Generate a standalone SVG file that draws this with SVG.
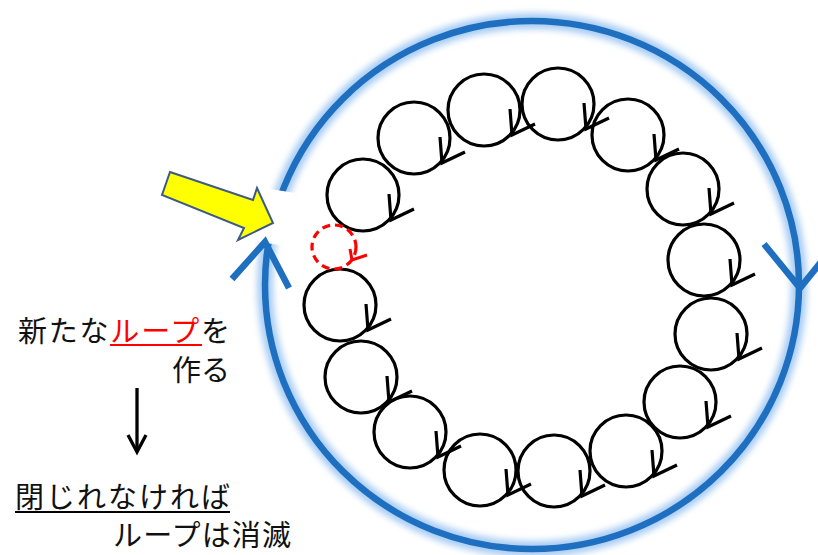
<svg xmlns="http://www.w3.org/2000/svg" xmlns:xlink="http://www.w3.org/1999/xlink" width="818" height="555" viewBox="0 0 818 555">
<style>
.loop{fill:none;stroke:#000;stroke-width:3.2}
.txt{font-family:"Noto Sans CJK JP","Noto Sans",sans-serif;font-size:29px;fill:#111}
.blue{fill:none;stroke:#1f6fc1;stroke-width:6.5}
</style>
<defs>
<filter id="glow" x="-10%" y="-10%" width="120%" height="120%"><feGaussianBlur stdDeviation="3"/></filter>
<g id="loopShape">
<circle cx="0" cy="0" r="36" class="loop"/>
<polyline points="26,-1 28,25 51,14" class="loop"/>
</g>
</defs>
<rect width="818" height="555" fill="#fff"/>

<g id="big-loop">
<ellipse cx="532" cy="285" rx="267" ry="264" fill="none" stroke="#a9cdf4" stroke-width="16" filter="url(#glow)"/>
<ellipse cx="532" cy="285" rx="267" ry="264" class="blue"/>
<polygon points="258,187 295,193 291,247 254,241" fill="#fff"/>
<polyline points="232,279 265,242 289,288" class="blue"/>
<polyline points="764,244 800,288 834,246" class="blue"/>
</g>

<g id="small-loops">
<g id="loop-1"><use xlink:href="#loopShape" x="414" y="138"/></g>
<g id="loop-2"><use xlink:href="#loopShape" x="484" y="110"/></g>
<g id="loop-3"><use xlink:href="#loopShape" x="558" y="104"/></g>
<g id="loop-4"><use xlink:href="#loopShape" x="628" y="135"/></g>
<g id="loop-5"><use xlink:href="#loopShape" x="683" y="189"/></g>
<g id="loop-6"><use xlink:href="#loopShape" x="704" y="260"/></g>
<g id="loop-7"><use xlink:href="#loopShape" x="711" y="334"/></g>
<g id="loop-8"><use xlink:href="#loopShape" x="680" y="402"/></g>
<g id="loop-9"><use xlink:href="#loopShape" x="626" y="451"/></g>
<g id="loop-10"><use xlink:href="#loopShape" x="554" y="471"/></g>
<g id="loop-11"><use xlink:href="#loopShape" x="480" y="470"/></g>
<g id="loop-12"><use xlink:href="#loopShape" x="410" y="432"/></g>
<g id="loop-13"><use xlink:href="#loopShape" x="361" y="377"/></g>
<g id="loop-14"><use xlink:href="#loopShape" x="340" y="305"/></g>
<g id="loop-15"><use xlink:href="#loopShape" x="363" y="195"/></g>
<g id="new-loop">
<circle cx="334" cy="247" r="22" fill="none" stroke="#ff0000" stroke-width="3.2" stroke-dasharray="8,5"/>
<polyline points="350,249 352,260 367,255" fill="none" stroke="#ff0000" stroke-width="3"/>
</g>
</g>

<g id="yellow-arrow">
<polygon points="170,172 253,200 257,188 273,223 238,240 244,228 162,195" fill="#ffff00" stroke="#3c5a86" stroke-width="2" stroke-linejoin="miter"/>
</g>

<g id="label-1">
<text class="txt" x="18" y="342" textLength="212" lengthAdjust="spacing">新たな<tspan fill="#ff0000">ループ</tspan>を</text>
<line x1="110" y1="345" x2="202" y2="345" stroke="#ff0000" stroke-width="2"/>
<text class="txt" x="230" y="381" text-anchor="end">作る</text>
</g>

<g id="connectors">
<line x1="137" y1="388" x2="137" y2="450" stroke="#000" stroke-width="3.3"/>
<polyline points="128,435 137,452 146,435" fill="none" stroke="#000" stroke-width="3.3"/>
</g>

<g id="label-2">
<text class="txt" x="15" y="508" textLength="215" lengthAdjust="spacing">閉じれなければ</text>
<line x1="15" y1="512" x2="230" y2="512" stroke="#000" stroke-width="2"/>
<text class="txt" x="113" y="546" textLength="178" lengthAdjust="spacing">ループは消滅</text>
</g>
</svg>
